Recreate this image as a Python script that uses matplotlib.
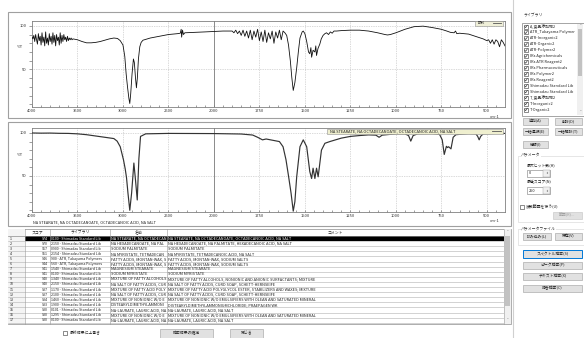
import matplotlib
matplotlib.use("Agg")
import matplotlib.pyplot as plt
import numpy as np
from matplotlib.patches import Rectangle

plt.rcParams['font.family'] = ['Noto Sans CJK JP', 'DejaVu Sans']

W, H = 584, 338

# ---- sample spectrum (top) : wavenumber / %T ----
wn_sample = [4000, 3990, 3980, 3970, 3960, 3950, 3940, 3930, 3920, 3910,
             3900, 3890, 3880, 3870, 3860, 3850, 3840, 3830, 3820, 3810,
             3800, 3790, 3780, 3770, 3760, 3750, 3740, 3730, 3720, 3710,
             3700, 3690, 3680, 3670, 3660, 3650, 3640, 3630, 3620, 3610,
             3600, 3590, 3580, 3570, 3560, 3550,
             3500, 3450, 3400, 3350, 3300, 3250, 3200, 3150, 3100, 3060,
             3030, 3000, 2980, 2965, 2950, 2935, 2925, 2915, 2900, 2885,
             2875, 2862, 2852, 2842, 2830, 2815, 2800, 2780, 2700, 2600,
             2500, 2400, 2370, 2360, 2355, 2345, 2335, 2320, 2200, 2100,
             2000, 1950, 1900,
             1890, 1880, 1870, 1860, 1850, 1840, 1830, 1820, 1810, 1800,
             1790, 1780, 1770, 1760, 1750, 1740, 1730, 1720, 1710, 1700,
             1690, 1680, 1670, 1660, 1650, 1640, 1630, 1620, 1610,
             1600, 1590, 1580, 1572, 1564, 1555, 1545, 1535, 1527, 1515,
             1509, 1500, 1490, 1480, 1473, 1467, 1463, 1455, 1445, 1440,
             1436, 1428, 1418, 1410, 1400, 1390, 1381, 1370, 1360, 1350,
             1340, 1326, 1300, 1250, 1200, 1150, 1100, 1060, 1046, 1030,
             1000, 950, 900, 850, 800, 750, 720, 700, 680, 672,
             665, 650, 600, 550, 520, 500, 490, 480, 470, 460,
             450, 440, 430, 420, 410, 400]
t_sample = [87, 85, 89, 82, 90, 84, 79, 91, 83, 88,
            78, 92, 81, 87, 77, 93, 80, 86, 78, 91,
            82, 88, 79, 92, 81, 89, 77, 90, 83, 87,
            78, 92, 80, 89, 82, 90, 84, 87, 82, 88,
            83, 86, 84, 86, 84, 85,
            84, 82, 80.5, 80.5, 81, 82, 83.5, 85, 86, 85.5,
            83, 78, 65, 45, 30, 17, 11, 22, 45, 62,
            58, 40, 29, 40, 62, 76, 81, 83.5, 86, 88,
            90, 91, 91.5, 96, 87, 95, 90, 92, 92.5, 93,
            93.5, 94, 94,
            92, 95, 91, 94, 89, 95, 88, 94, 86, 95,
            84, 94, 87, 96, 83, 93, 82, 95, 81, 92,
            85, 94, 80, 93, 86, 95, 84, 94, 92,
            89, 78, 60, 41, 26, 35, 52, 72, 86, 93,
            94, 91, 82, 70, 68, 75, 64, 72, 70, 77,
            66, 74, 79, 85, 89, 91, 92, 90, 93, 91.5,
            94, 94, 94.5, 95, 95, 94, 92, 90, 89.5, 90,
            92, 96, 99, 99.6, 98, 96, 94, 92.5, 92, 94,
            91, 91.5, 90.5, 87, 85, 83, 84, 80, 84, 79,
            84, 82, 76, 84, 81, 77]

# ---- library hit spectrum (bottom) ----
wn_lib = [4000, 3900, 3800, 3700, 3600, 3500, 3400, 3300, 3200, 3100,
          3064, 3030, 2994, 2975, 2961, 2945, 2925, 2905, 2880, 2862,
          2843, 2825, 2807, 2750, 2500, 2000, 1850, 1787, 1760, 1733,
          1713, 1640, 1620, 1604, 1590, 1576, 1564, 1555, 1545, 1527,
          1509, 1490, 1473, 1463, 1455, 1445, 1436, 1427, 1409, 1390,
          1363, 1300, 1250, 1200, 1150, 1110, 1092, 1075, 1050, 1000,
          950, 930, 918, 905, 880, 800, 760, 745, 734, 722,
          716, 710, 697, 685, 670, 600, 560, 550, 542, 534,
          520, 450, 400]
t_lib = [100, 99.8, 99.9, 99.6, 99.5, 99, 98, 96.5, 95, 93.5,
         90.5, 84, 68.6, 58, 48, 30, 10, 30, 65, 45,
         22, 70, 96, 99, 99.5, 99.3, 98.8, 97.6, 95, 92,
         93, 90, 84, 69, 50, 30, 9, 20, 49, 84,
         92, 84, 55, 47, 59, 47, 59, 49, 80, 88,
         90, 94, 96, 97, 97.8, 97.5, 95, 97.5, 98, 99,
         99, 97, 90.5, 97, 99, 99.3, 98.5, 92, 75, 84.5,
         83, 84, 81.5, 95, 98, 99.3, 99, 96, 92, 96,
         99, 99.5, 99.5]

spec_ticks = [4000, 3500, 3000, 2500, 2000, 1750, 1500, 1250, 1000, 750, 500]

# ---- hit list table ----
scores = [974, 970, 967, 951, 946, 944, 941, 941, 940, 940, 937, 937, 934, 933, 930, 930, 930]
libraries = ["0100 - Shimadzu Standard Lib", "2150 - Shimadzu Standard Lib",
             "0900 - Shimadzu Standard Lib", "2154 - Shimadzu Standard Lib",
             "900 - ATR, Takayama Polymers", "560 - ATR, Takayama Polymers",
             "1540 - Shimadzu Standard Lib", "0100 - Shimadzu Standard Lib",
             "1340 - Shimadzu Standard Lib", "2150 - Shimadzu Standard Lib",
             "1170 - Shimadzu Standard Lib", "2100 - Shimadzu Standard Lib",
             "1460 - Shimadzu Standard Lib", "1900 - Shimadzu Standard Lib",
             "0101 - Shimadzu Standard Lib", "1295 - Shimadzu Standard Lib",
             "0100 - Shimadzu Standard Lib"]
names = ["NA STEARATE, NA OCTADECANOATE",
         "NA HEXADECANOATE, NA PALMITATE",
         "SODIUM PALMITATE",
         "NA MYRISTATE, TETRADECANOIC ACID",
         "FATTY ACIDS, MONTAN-WAX, SODIUM SALTS",
         "FATTY ACIDS, MONTAN-WAX, SODIUM SALTS",
         "MAGNESIUM STEARATE",
         "SODIUM MYRISTATE",
         "MIXTURE OF FATTY ALCOHOLS",
         "NA SALT OF FATTY ACIDS, CURD SOAP",
         "MIXTURE OF FATTY ACID POLYGLYCOL ESTER",
         "NA SALT OF FATTY ACIDS, CURD SOAP",
         "MIXTURE OF NONIONIC W/O EMULSIFIERS",
         "DISTEARYLDIMETHYLAMMONIUMCHLORIDE",
         "NA-LAURATE, LAURIC ACID, NA SALT",
         "MIXTURE OF NONIONIC W/O EMULSIFIERS",
         "NA-LAURATE, LAURIC ACID, NA SALT"]
comments = ["NA STEARATE, NA OCTADECANOATE, OCTADECANOIC ACID, NA SALT",
            "NA HEXADECANOATE, NA PALMITATE, HEXADECANOIC ACID, NA SALT",
            "SODIUM PALMITATE",
            "NA MYRISTATE, TETRADECANOIC ACID, NA SALT",
            "FATTY ACIDS, MONTAN-WAX, SODIUM SALTS",
            "FATTY ACIDS, MONTAN-WAX, SODIUM SALTS",
            "MAGNESIUM STEARATE",
            "SODIUM MYRISTATE",
            "MIXTURE OF FATTY ALCOHOLS, NONIONIC AND ANIONIC SURFACTANTS; MIXTURE",
            "NA SALT OF FATTY ACIDS, CURD SOAP, SCHETT-HERNSEIFE",
            "MIXTURE OF FATTY ACID POLYGLYCOL ESTER, STABILIZERS AND WAXES; MIXTURE",
            "NA SALT OF FATTY ACIDS, CURD SOAP, SCHETT-HERNSEIFE",
            "MIXTURE OF NONIONIC W/O EMULSIFIERS WITH OLEAN AND SATURATED MINERAL",
            "DISTEARYLDIMETHYLAMMONIUMCHLORIDE; PRAEPAGEN WK",
            "NA-LAURATE, LAURIC ACID, NA SALT",
            "MIXTURE OF NONIONIC W/O EMULSIFIERS WITH OLEAN AND SATURATED MINERAL",
            "NA-LAURATE, LAURIC ACID, NA SALT"]

lib_items = ["A_食品添加物2", "ATR_Takayama Polymer", "ATR-Inorganic2", "ATR-Organic2",
             "ATR-Polymer2", "IRs Agrichemicals", "IRs ATR Reagent2", "IRs Pharmaceuticals",
             "IRs Polymer2", "IRs Reagent2", "Shimadzu Standard Lib", "Shimadzu Standard Lib",
             "T_食品添加物2", "T-Inorganic2", "T-Organic2", "T-Polymer2"]

hit_title = comments[0]

# ------------------------------------------------------------------
fig = plt.figure(figsize=(W / 100, H / 100), dpi=100)
fig.patch.set_facecolor("white")
ui = fig.add_axes([0, 0, 1, 1], zorder=0)
ui.set_xlim(0, W)
ui.set_ylim(H, 0)
ui.axis("off")
top = fig.add_axes([0, 0, 1, 1], zorder=5)
top.set_xlim(0, W)
top.set_ylim(H, 0)
top.axis("off")
top.patch.set_alpha(0)
renderer = fig.canvas.get_renderer()

FR = "#a8a8a8"
BTN_FC, BTN_EC = "#e1e1e1", "#adadad"


def box(ax, l, t, r, b, fc="none", ec=FR, lw=0.6, z=1):
    p = Rectangle((l, t), r - l, b - t, facecolor=fc, edgecolor=ec, lw=lw, zorder=z)
    ax.add_patch(p)
    return p


def txt(ax, x, y, s, size=3, ha="left", color="#222222", clip=None, z=3, **kw):
    t = ax.text(x, y, s, fontsize=size, ha=ha, va="center", color=color, zorder=z, **kw)
    if clip is not None:
        l, tp, r, b = clip
        t.set_clip_path(Rectangle((l, tp), r - l, b - tp, transform=ax.transData))
    return t


def cell(x, y, s, right, size=2.8, color="#222222"):
    # text cut to the cell width, like the grid control does
    t = txt(ui, x, y, s, size=size, color=color)
    limit = ui.transData.transform((right, 0))[0]
    while s and t.get_window_extent(renderer).x1 > limit:
        s = s[:-1]
        t.set_text(s)
    return t


def button(l, t, r, b, label, ec=BTN_EC, color="#222222", lw=0.5):
    box(ui, l, t, r, b, fc=BTN_FC, ec=ec, lw=lw)
    txt(ui, (l + r) / 2, (t + b) / 2, label, size=2.8, ha="center", color=color)


def checkbox(x, y, checked=True):
    box(ui, x, y - 2, x + 4, y + 2, fc="white", ec="#333333", lw=0.4, z=3)
    if checked:
        ui.plot([x + 0.8, x + 1.7, x + 3.3], [y, y + 1.2, y - 1.3], color="#222222", lw=0.4, zorder=4)


def px_rect(l, t, r, b):
    return [l / W, 1 - b / H, (r - l) / W, (b - t) / H]


def fwd(w):
    w = np.asarray(w, float)
    return np.where(w >= 2000, w, 2 * w - 2000)


def inv(u):
    u = np.asarray(u, float)
    return np.where(u >= 2000, u, (u + 2000) / 2)


minor_x = [w for w in range(3900, 2000, -100) if w not in spec_ticks] + \
          [w for w in range(1950, 400, -50) if w not in spec_ticks]


def spectrum_axes(l, t, r, b, ylim, wn, tr, color, lw):
    ax = fig.add_axes(px_rect(l, t, r, b), zorder=2)
    ax.set_xscale("function", functions=(fwd, inv))
    ax.plot(wn, tr, color=color, lw=lw, zorder=3)
    ax.set_xlim(4000, 400)
    ax.set_ylim(*ylim)
    ax.set_xticks(spec_ticks)
    ax.set_xticklabels([str(v) for v in spec_ticks])
    ax.set_xticks(minor_x, minor=True)
    ax.xaxis.set_minor_formatter(plt.NullFormatter())
    ax.set_yticks(range(10, 101, 10))
    ax.set_yticklabels(["50" if v == 50 else "100" if v == 100 else "" for v in range(10, 101, 10)])
    ax.tick_params(axis="x", which="both", direction="in", length=1.8, width=0.4,
                   labelsize=3, pad=1.5, color="#555555", labelcolor="#333333")
    ax.tick_params(axis="y", direction="out", length=2.5, width=0.4,
                   labelsize=3, pad=1.5, color="#555555", labelcolor="#333333")
    for v in spec_ticks[1:]:
        if v == 2000:
            ax.axvline(v, color="#777777", lw=0.6, zorder=2)
        else:
            ax.axvline(v, color="#b5b5b5", lw=0.5, ls=(0, (1, 1.5)), zorder=1)
    for v in (100, 50):
        ax.axhline(v, color="#b5b5b5", lw=0.5, ls=(0, (1, 1.5)), zorder=1)
    for s in ax.spines.values():
        s.set_color("#808080")
        s.set_linewidth(0.6)
    return ax


# panel frames
box(ui, 8, 12, 511, 118, ec="#a0a0a0", lw=0.8)
box(ui, 8, 122, 511, 226, ec="#a0a0a0", lw=0.8)
ui.plot([513, 513], [0, H], color="#d0d0d0", lw=0.8)

spectrum_axes(32, 21, 505, 107, (7, 105.5), wn_sample, t_sample, "#111111", 0.6)
spectrum_axes(32, 128, 505, 212, (8, 105.8), wn_lib, t_lib, "#333333", 0.85)

txt(ui, 17, 47, "%T", size=3, color="#333333")
txt(ui, 17, 154.5, "%T", size=3, color="#333333")
txt(ui, 490, 116.5, "cm-1", size=3, color="#333333")
txt(ui, 490, 221, "cm-1", size=3, color="#333333")
txt(ui, 33, 222.5, hit_title, size=2.75, color="#222222")

# legend boxes over the plots
box(top, 475, 20.5, 503, 25.5, fc="#efefd8", ec="#909090", lw=0.4, z=6)
txt(top, 477.5, 23, "試料", size=2.6, z=7)
top.plot([493, 501], [23, 23], color="#555555", lw=0.6, zorder=7)
box(top, 327, 128.5, 503, 133.5, fc="#efefcf", ec="#909090", lw=0.4, z=6)
txt(top, 330, 131, hit_title, size=2.85, z=7)
top.plot([492, 501], [131, 131], color="#555555", lw=0.6, zorder=7)

# ---- hit table ----
cols = [8, 25, 50, 110, 167, 504]
row_top, row_h = 236, 5.1
box(ui, 8, 229, 511, 323.5, fc="white", ec="#a0a0a0", lw=0.6)
box(ui, 8, 229, 25, 323.5, fc="#f4f4f4", ec="none", lw=0)
for i, h in enumerate(["", "スコア", "ライブラリ", "名前", "コメント"]):
    txt(ui, (cols[i] + cols[i + 1]) / 2, 232.6, h, size=2.8, ha="center")
ui.plot([8, 504], [236, 236], color="#8c8c8c", lw=0.5)
for i in range(len(scores)):
    y0 = row_top + i * row_h
    yc = y0 + row_h / 2
    fg = "#222222"
    if i == 0:
        box(ui, 25, y0, 504, y0 + row_h, fc="black", ec="none", lw=0, z=1.5)
        fg = "white"
    ui.plot([8, 504], [y0 + row_h, y0 + row_h], color="#b0b0b0", lw=0.4, zorder=2)
    txt(ui, 10, yc, str(i + 1), size=2.6)
    txt(ui, 48, yc, str(scores[i]), size=2.6, ha="right", color=fg)
    cell(51, yc, libraries[i], 109.5, size=2.6, color=fg)
    cell(111, yc, names[i], 166.5, color=fg)
    cell(168.5, yc, comments[i], 503, color=fg)
for c in cols[1:]:
    ui.plot([c, c], [229, 323.5], color="#9a9a9a", lw=0.4, zorder=2.5)
# table scrollbar
box(ui, 504, 229, 511, 323.5, fc="#f0f0f0", ec="none", lw=0, z=2)
box(ui, 505.2, 236, 509.8, 306, fc="#c2c2c2", ec="none", lw=0, z=2.2)
txt(ui, 507.5, 232, "˄", size=2.5, ha="center", color="#606060")
txt(ui, 507.5, 320, "˅", size=2.5, ha="center", color="#606060")

# bottom controls
checkbox(63, 333, checked=False)
txt(ui, 69.5, 333, "最終結果に上書き", size=2.8)
button(160, 329, 213, 337.5, "検索結果の確定")
button(230, 329, 263, 337.5, "閉じる")

# ---- right panel ----
txt(ui, 523, 15.5, "ライブラリ", size=2.8, color="#333333")
box(ui, 522, 23, 583.5, 115.5, fc="white", ec="#828282", lw=0.5)
for k, item in enumerate(lib_items):
    y = 26.5 + k * 5.93
    if y > 115:
        break
    if y + 2 <= 115:
        checkbox(524, y)
    txt(ui, 529.5, y, item, size=2.8, clip=(522.5, 23.5, 577, 115))
box(ui, 577.2, 23.5, 583.2, 115, fc="#f0f0f0", ec="none", lw=0, z=2)
box(ui, 578.2, 29, 582.2, 76, fc="#c2c2c2", ec="none", lw=0, z=2.2)
txt(ui, 580.2, 26, "˄", size=2.5, ha="center", color="#606060")
txt(ui, 580.2, 112, "˅", size=2.5, ha="center", color="#606060")

button(523, 118, 548, 125, "追加(A)")
button(555, 118, 582, 125, "削除(D)")
button(523, 128, 548, 135, "一括選択(E)")
button(555, 128, 582, 135, "一括解除(T)")
button(523, 141, 548, 148, "情報(I)")

box(ui, 518, 155.5, 586, 222, fc="none", ec="#dcdcdc", lw=0.5)
txt(ui, 521, 155.5, "パラメータ", size=2.8, color="#333333",
    bbox=dict(boxstyle="square,pad=0.1", fc="white", ec="none"))
txt(ui, 527, 166.5, "最大ヒット数(H)", size=2.8)
box(ui, 527, 170, 550, 177, fc="white", ec="#7a7a7a", lw=0.4)
box(ui, 543, 170, 550, 177, fc="#f0f0f0", ec="#9a9a9a", lw=0.3)
txt(ui, 529, 173.5, "0", size=2.8)
txt(ui, 546.5, 173.5, "⇕", size=2.4, ha="center", color="#555555")
txt(ui, 527, 182.5, "最低スコア(N)", size=2.8)
box(ui, 527, 187, 550, 194, fc="white", ec="#7a7a7a", lw=0.4)
box(ui, 543, 187, 550, 194, fc="#f0f0f0", ec="#9a9a9a", lw=0.3)
txt(ui, 529, 190.5, "250", size=2.8)
txt(ui, 546.5, 190.5, "⇕", size=2.4, ha="center", color="#555555")
checkbox(520, 206.5, checked=False)
txt(ui, 526, 206.5, "波数範囲を使う(U)", size=2.8)
button(553, 212, 582, 219, "範囲(R)...", ec="#cccccc", color="#a0a0a0")

box(ui, 518, 228.5, 586, 245, fc="none", ec="#dcdcdc", lw=0.5)
txt(ui, 521, 228.5, "パラメータファイル", size=2.8, color="#333333",
    bbox=dict(boxstyle="square,pad=0.1", fc="white", ec="none"))
button(523, 233, 551, 240, "読み込み(L)")
button(555, 233, 582, 240, "保存(V)")

button(523, 250, 582, 258, "スペクトル検索(S)", ec="#0078d7", lw=0.7)
button(523, 262, 582, 269, "ピーク検索(P)")
button(523, 273, 582, 280, "テキスト検索(X)")
button(523, 285, 582, 292, "複合検索(C)")

fig.savefig("out.png", dpi=100, facecolor="white")
